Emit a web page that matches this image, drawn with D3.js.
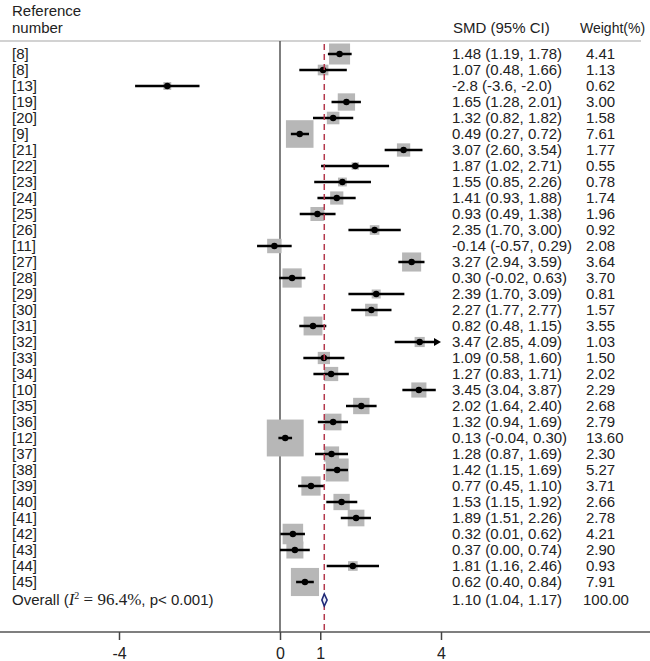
<!DOCTYPE html>
<html>
<head>
<meta charset="utf-8">
<script src="https://cdn.jsdelivr.net/npm/d3@7"></script>
<style>
  html, body { margin: 0; padding: 0; background: #fff; }
  svg { display: block; }
  text { font-family: "Liberation Sans", Arial, sans-serif; fill: #222; }
</style>
</head>
<body>
<svg id="chart" width="650" height="661"></svg>
<script>
// ---------------- DATA ----------------
const studies = ["[8]","[8]","[13]","[19]","[20]","[9]","[21]","[22]","[23]","[24]","[25]","[26]","[11]","[27]","[28]","[29]","[30]","[31]","[32]","[33]","[34]","[10]","[35]","[36]","[12]","[37]","[38]","[39]","[40]","[41]","[42]","[43]","[44]","[45]"];
const smd   = [1.48,1.07,-2.8,1.65,1.32,0.49,3.07,1.87,1.55,1.41,0.93,2.35,-0.14,3.27,0.30,2.39,2.27,0.82,3.47,1.09,1.27,3.45,2.02,1.32,0.13,1.28,1.42,0.77,1.53,1.89,0.32,0.37,1.81,0.62];
const lower = [1.19,0.48,-3.6,1.28,0.82,0.27,2.60,1.02,0.85,0.93,0.49,1.70,-0.57,2.94,-0.02,1.70,1.77,0.48,2.85,0.58,0.83,3.04,1.64,0.94,-0.04,0.87,1.15,0.45,1.15,1.51,0.01,0.00,1.16,0.40];
const upper = [1.78,1.66,-2.0,2.01,1.82,0.72,3.54,2.71,2.26,1.88,1.38,3.00,0.29,3.59,0.63,3.09,2.77,1.15,4.09,1.60,1.71,3.87,2.40,1.69,0.30,1.69,1.69,1.10,1.92,2.26,0.62,0.74,2.46,0.84];
const weights = [4.41,1.13,0.62,3.00,1.58,7.61,1.77,0.55,0.78,1.74,1.96,0.92,2.08,3.64,3.70,0.81,1.57,3.55,1.03,1.50,2.02,2.29,2.68,2.79,13.60,2.30,5.27,3.71,2.66,2.78,4.21,2.90,0.93,7.91];
const overallLabel = "Overall";
const overall = { est: 1.10, lo: 1.04, hi: 1.17, weight: 100.00 };
const heterogeneity = { i2: "96.4%", p: "p< 0.001" };
const tickValues = [-4, 0, 1, 4];
const headers = { ref1: "Reference", ref2: "number", smd: "SMD (95% CI)", weight: "Weight(%)" };

// ---------------- LAYOUT ----------------
const svg = d3.select("#chart");
const W = 650, H = 661;
const axisY = 632;
const rowY0 = 54, rowStep = 16;
const fontSize = 15;

const x = d3.scaleLinear().domain([-4, 4]).range([119, 441]);
const yRow = d3.scaleLinear().domain([0, 1]).range([rowY0, rowY0 + rowStep]);
const boxSide = d3.scaleSqrt().domain([0, 1]).range([0, 10]);

const hy = s => s.replace(/\u2212/g, "-");
const fmt2 = v => hy(d3.format(".2f")(v));
const decimals = smd.map(v => (v === -2.8 ? 1 : 2));
function fmtNum(v, d) { return hy(d3.format("." + d + "f")(v)); }
function ciText(i) {
  const d = decimals[i];
  return fmtNum(smd[i], d) + " (" + fmtNum(lower[i], d) + ", " + fmtNum(upper[i], d) + ")";
}

// header line
svg.append("line")
  .attr("x1", 0).attr("x2", 641).attr("y1", 41).attr("y2", 41)
  .attr("stroke", "#d2d2d2").attr("stroke-width", 2);

// headers
svg.append("text").attr("x", 12).attr("y", 16).attr("font-size", fontSize).text(headers.ref1);
svg.append("text").attr("x", 12).attr("y", 33).attr("font-size", fontSize).text(headers.ref2);
svg.append("text").attr("x", 453).attr("y", 33).attr("font-size", fontSize).text(headers.smd);
svg.append("text").attr("x", 580).attr("y", 33).attr("font-size", 14).text(headers.weight);

// zero line
svg.append("line")
  .attr("x1", x(0)).attr("x2", x(0)).attr("y1", 41).attr("y2", axisY)
  .attr("stroke", "#555").attr("stroke-width", 1.5);

// boxes
const g = svg.append("g");
studies.forEach((s, i) => {
  const cy = yRow(i);
  const side = boxSide(weights[i]);
  g.append("rect")
    .attr("x", x(smd[i]) - side / 2).attr("y", cy - side / 2)
    .attr("width", side).attr("height", side)
    .attr("fill", "#b7b7b7");
});

// overall dashed line
svg.append("line")
  .attr("x1", x(overall.est)).attr("x2", x(overall.est)).attr("y1", 44).attr("y2", axisY)
  .attr("stroke", "#b3384c").attr("stroke-width", 1.5).attr("stroke-dasharray", "6,4");

// CI lines, dots
studies.forEach((s, i) => {
  const cy = yRow(i);
  const xmax = x.domain()[1];
  const clipped = upper[i] > xmax;
  const x2 = clipped ? x(xmax) - 5 : x(upper[i]);
  g.append("line")
    .attr("x1", x(lower[i])).attr("x2", x2).attr("y1", cy).attr("y2", cy)
    .attr("stroke", "#000").attr("stroke-width", 2.5);
  if (clipped) {
    const tip = x(xmax);
    g.append("path")
      .attr("d", `M${tip},${cy} L${tip - 7},${cy - 4} L${tip - 7},${cy + 4} Z`)
      .attr("fill", "#000");
  }
  g.append("circle").attr("cx", x(smd[i])).attr("cy", cy).attr("r", 3.2).attr("fill", "#000");

  // texts
  svg.append("text").attr("x", 12).attr("y", cy + 5).attr("font-size", fontSize).text(s);
  svg.append("text").attr("x", 452).attr("y", cy + 5).attr("font-size", fontSize).text(ciText(i));
  svg.append("text").attr("x", 586).attr("y", cy + 5).attr("font-size", fontSize).text(fmt2(weights[i]));
});

// overall row
const oy = 600;
svg.append("path")
  .attr("d", `M${x(overall.lo)},${oy} L${x(overall.est)},${oy - 6} L${x(overall.hi)},${oy} L${x(overall.est)},${oy + 6} Z`)
  .attr("fill", "#eceef8").attr("stroke", "#1f2a78").attr("stroke-width", 1.6);

const serif = "'Liberation Serif', 'Times New Roman', serif";
const ot = svg.append("text").attr("x", 12).attr("y", oy + 5).attr("font-size", fontSize);
ot.append("tspan").text(overallLabel + " (");
ot.append("tspan").attr("font-family", serif).attr("font-style", "italic").attr("font-size", 17).text("I");
ot.append("tspan").attr("font-family", serif).attr("font-size", 10).attr("dy", -6).text("2");
ot.append("tspan").attr("font-family", serif).attr("font-size", 17).attr("dy", 6).text(" = " + heterogeneity.i2);
ot.append("tspan").text(", " + heterogeneity.p + ")");

svg.append("text").attr("x", 452).attr("y", oy + 5).attr("font-size", fontSize)
  .text(fmt2(overall.est) + " (" + fmt2(overall.lo) + ", " + fmt2(overall.hi) + ")");
svg.append("text").attr("x", 583).attr("y", oy + 5).attr("font-size", fontSize).text(fmt2(overall.weight));

// axis
svg.append("line").attr("x1", 0).attr("x2", W).attr("y1", axisY).attr("y2", axisY)
  .attr("stroke", "#555").attr("stroke-width", 1.5);
const axis = d3.axisBottom(x).tickValues(tickValues).tickSize(8).tickPadding(8)
  .tickFormat(d => hy(d3.format("d")(d)));
const ag = svg.append("g").attr("transform", `translate(0,${axisY})`).call(axis);
ag.select(".domain").remove();
ag.selectAll(".tick line").attr("stroke", "#444").attr("stroke-width", 1.5);
ag.selectAll(".tick text").attr("font-size", 16).attr("font-family", "'Liberation Sans', Arial, sans-serif").attr("fill", "#222");
</script>
</body>
</html>
